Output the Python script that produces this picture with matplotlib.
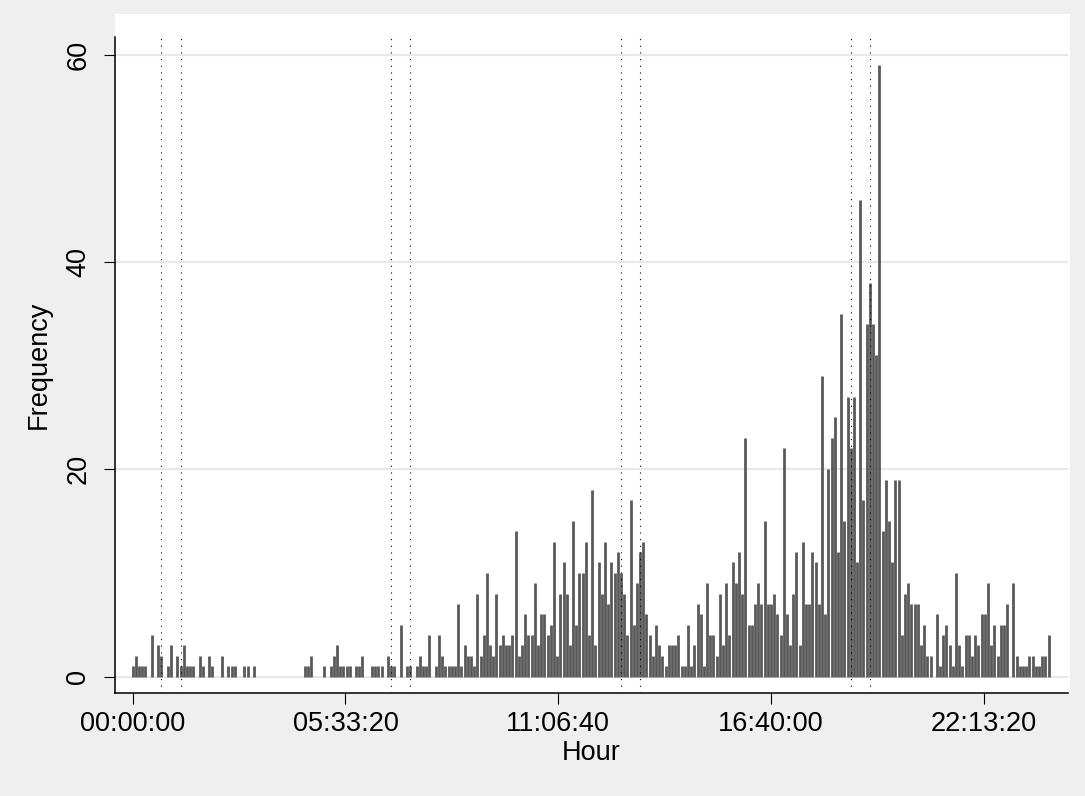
import matplotlib
matplotlib.use("Agg")
import matplotlib.pyplot as plt
import numpy as np
from matplotlib.patches import Rectangle
from matplotlib.ticker import FuncFormatter

# Frequency per 5-minute slot of the day (slot i starts at i*5 minutes)
counts = [
    1, 2, 1, 1, 1, 0, 4, 0, 3, 2, 0, 1, 3, 0, 2, 1, 3, 1, 1, 1,      # 00:00
    0, 2, 1, 0, 2, 1, 0, 0, 2, 0, 1, 1, 1, 0, 0, 1, 1, 0, 1, 0,      # 01:40
    0, 0, 0, 0, 0, 0, 0, 0, 0, 0, 0, 0, 0, 0, 1, 1, 2, 0, 0, 0,      # 03:20
    1, 0, 1, 2, 3, 1, 1, 1, 1, 0, 1, 1, 2, 0, 0, 1, 1, 1, 1, 0,      # 05:00
    2, 1, 1, 0, 5, 0, 1, 1, 0, 1, 2, 1, 1, 4, 0, 1, 4, 2, 1, 1,      # 06:40
    1, 1, 7, 1, 3, 2, 2, 1, 8, 2, 4, 10, 3, 2, 8, 3, 4, 3, 3, 4,     # 08:20
    14, 2, 3, 6, 4, 4, 9, 3, 6, 6, 4, 5, 13, 2, 8, 11, 8, 3, 15, 5,  # 10:00
    10, 10, 13, 4, 18, 3, 11, 8, 13, 7, 11, 10, 12, 10, 8, 4, 17, 5, 9, 12,  # 11:40
    13, 6, 4, 2, 5, 3, 2, 1, 3, 3, 3, 4, 1, 1, 5, 1, 3, 7, 6, 1,     # 13:20
    9, 4, 4, 2, 8, 3, 9, 4, 11, 9, 12, 8, 23, 5, 5, 7, 9, 7, 15, 7,  # 15:00
    7, 8, 6, 4, 22, 6, 3, 8, 12, 3, 13, 7, 7, 12, 11, 7, 29, 6, 20, 23,  # 16:40
    25, 12, 35, 15, 27, 22, 27, 11, 46, 17, 34, 38, 34, 31, 59, 14, 19, 15, 11, 19,  # 18:20
    19, 4, 8, 9, 7, 7, 7, 3, 5, 2, 2, 0, 6, 1, 4, 5, 3, 1, 10, 3,    # 20:00
    1, 4, 4, 2, 4, 3, 6, 6, 9, 3, 5, 2, 5, 5, 7, 0, 9, 2, 1, 1,      # 21:40
    1, 2, 2, 1, 1, 2, 2, 4,                                          # 23:20
]

# Marked times of day (dotted reference lines)
marks = ["00:45:00", "01:15:00", "06:45:00", "07:15:00",
         "12:45:00", "13:15:00", "18:45:00", "19:15:00"]

xticks = [0, 20000, 40000, 60000, 80000]
yticks = [0, 20, 40, 60]


def to_seconds(s):
    h, m, sec = (int(p) for p in s.split(":"))
    return h * 3600 + m * 60 + sec


def hms(x, pos=None):
    x = int(round(x))
    return f"{x // 3600:02d}:{x % 3600 // 60:02d}:{x % 60:02d}"


counts = np.array(counts)
times = np.arange(len(counts)) * 300
keep = counts > 0

plt.rcParams["font.family"] = ["Liberation Sans", "DejaVu Sans"]

W, H = 1085, 796
fig = plt.figure(figsize=(W / 100, H / 100), dpi=100, facecolor="#efefef")

# white plot region, a little taller and wider than the axes
fig.patches.append(Rectangle((115 / W, 103 / H), 955 / W, 679 / H,
                             transform=fig.transFigure, facecolor="white",
                             edgecolor="none", zorder=-10))

ax = fig.add_axes([115 / W, 103 / H, 953 / W, 656 / H])
ax.set_facecolor("none")
ax.set_zorder(1)

for y in yticks:
    ax.axhline(y, color="#e8e8e8", lw=1.6, zorder=0)

ax.vlines(times[keep], 0, counts[keep], color="#595959", lw=2.0,
          capstyle="butt", zorder=2)

for m in marks:
    ax.axvline(to_seconds(m), color="black", lw=0.8,
               linestyle=(0, (1, 5)), zorder=3)

ax.set_xlim(-1664, 87926)
ax.set_ylim(-1.59, 61.69)
ax.set_xticks(xticks)
ax.xaxis.set_major_formatter(FuncFormatter(hms))
ax.set_yticks(yticks)
ax.set_yticklabels([str(v) for v in yticks], rotation=90, va="center")

for side in ("top", "right"):
    ax.spines[side].set_visible(False)
for side in ("left", "bottom"):
    ax.spines[side].set_linewidth(1.1)
ax.tick_params(direction="out", length=8, width=0.8, labelsize=19.5, pad=5)
ax.tick_params(axis="y", pad=9)

ax.set_xlabel("Hour", fontsize=19.5, labelpad=2)
ax.set_ylabel("Frequency", fontsize=19.5, labelpad=10)

fig.savefig("out.png", dpi=100, facecolor=fig.get_facecolor())
